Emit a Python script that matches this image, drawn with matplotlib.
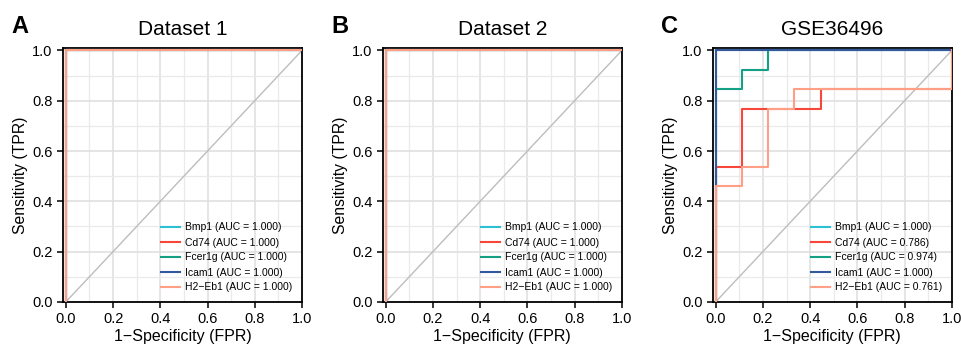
import numpy as np
import matplotlib.pyplot as plt
from matplotlib.ticker import MultipleLocator

plt.rcParams['font.family'] = ['Liberation Sans', 'DejaVu Sans']

genes = ['Bmp1', 'Cd74', 'Fcer1g', 'Icam1', 'H2-Eb1']
colors = ['#2BC0D3', '#F7463A', '#13A085', '#34589C', '#FF9F86']
titles = ['Dataset 1', 'Dataset 2', 'GSE36496']
letters = ['A', 'B', 'C']

# perfect classifiers in the training datasets
perfect_fpr = [0.0, 0.0, 1.0]
perfect_tpr = [0.0, 1.0, 1.0]
auc_dataset1 = [1.000, 1.000, 1.000, 1.000, 1.000]
auc_dataset2 = [1.000, 1.000, 1.000, 1.000, 1.000]

# GSE36496 (9 controls, 13 cases)
gse_bmp1_fpr = [0.0, 0.0, 1.0]
gse_bmp1_tpr = [0.0, 1.0, 1.0]
gse_cd74_fpr = [0.0, 0.0, 0.111, 0.111, 0.444, 0.444, 1.0, 1.0]
gse_cd74_tpr = [0.0, 0.538, 0.538, 0.769, 0.769, 0.846, 0.846, 1.0]
gse_fcer1g_fpr = [0.0, 0.0, 0.111, 0.111, 0.222, 0.222, 1.0]
gse_fcer1g_tpr = [0.0, 0.846, 0.846, 0.923, 0.923, 1.0, 1.0]
gse_icam1_fpr = [0.0, 0.0, 1.0]
gse_icam1_tpr = [0.0, 1.0, 1.0]
gse_h2eb1_fpr = [0.0, 0.0, 0.111, 0.111, 0.222, 0.222, 0.333, 0.333, 1.0, 1.0]
gse_h2eb1_tpr = [0.0, 0.462, 0.462, 0.538, 0.538, 0.769, 0.769, 0.846, 0.846, 1.0]
auc_gse = [1.000, 0.786, 0.974, 1.000, 0.761]

panel_curves = [
    [(perfect_fpr, perfect_tpr)] * 5,
    [(perfect_fpr, perfect_tpr)] * 5,
    [(gse_bmp1_fpr, gse_bmp1_tpr), (gse_cd74_fpr, gse_cd74_tpr),
     (gse_fcer1g_fpr, gse_fcer1g_tpr), (gse_icam1_fpr, gse_icam1_tpr),
     (gse_h2eb1_fpr, gse_h2eb1_tpr)],
]
panel_aucs = [auc_dataset1, auc_dataset2, auc_gse]


def roc_panel(ax, curves, aucs, title, letter):
    ax.plot([0, 1], [0, 1], color='#BDBDBD', lw=1.0, zorder=2)
    for g, c, (fpr, tpr), auc in zip(genes, colors, curves, aucs):
        ax.plot(fpr, tpr, color=c, lw=1.5, zorder=3,
                label='%s (AUC = %.3f)' % (g.replace('-', '\u2212'), auc))
    ax.set_xlim(-0.012, 1.0)
    ax.set_ylim(0.0, 1.01)
    ax.xaxis.set_major_locator(MultipleLocator(0.2))
    ax.yaxis.set_major_locator(MultipleLocator(0.2))
    ax.xaxis.set_minor_locator(MultipleLocator(0.1))
    ax.yaxis.set_minor_locator(MultipleLocator(0.1))
    ax.grid(which='major', color='#E0E0E0', lw=1.2, zorder=0)
    ax.grid(which='minor', color='#EAEAEA', lw=0.9, zorder=0)
    ax.set_axisbelow(True)
    ax.tick_params(which='major', length=4, width=1.1, labelsize=10.5, color='black')
    ax.tick_params(which='minor', length=0)
    for s in ax.spines.values():
        s.set_linewidth(1.3)
        s.set_color('black')
    ax.set_xlabel('1\u2212Specificity (FPR)', fontsize=11.5, labelpad=2)
    ax.set_ylabel('Sensitivity (TPR)', fontsize=11.3, labelpad=3)
    ax.set_title(title, fontsize=15, pad=9)
    ax.legend(loc='lower right', frameon=False, fontsize=7.5, handlelength=1.8,
              handletextpad=0.5, labelspacing=0.48, bbox_to_anchor=(1.0, 0.0))
    ax.text(-0.215, 1.059, letter, transform=ax.transAxes, fontsize=17,
            fontweight='bold', ha='left', va='baseline')


fig = plt.figure(figsize=(9.62, 3.45), dpi=100)
lefts = [0.0655, 0.398, 0.741]
for i in range(3):
    ax = fig.add_axes([lefts[i], 0.125, 0.2484, 0.736])
    roc_panel(ax, panel_curves[i], panel_aucs[i], titles[i], letters[i])

fig.savefig('out.png', dpi=100)
